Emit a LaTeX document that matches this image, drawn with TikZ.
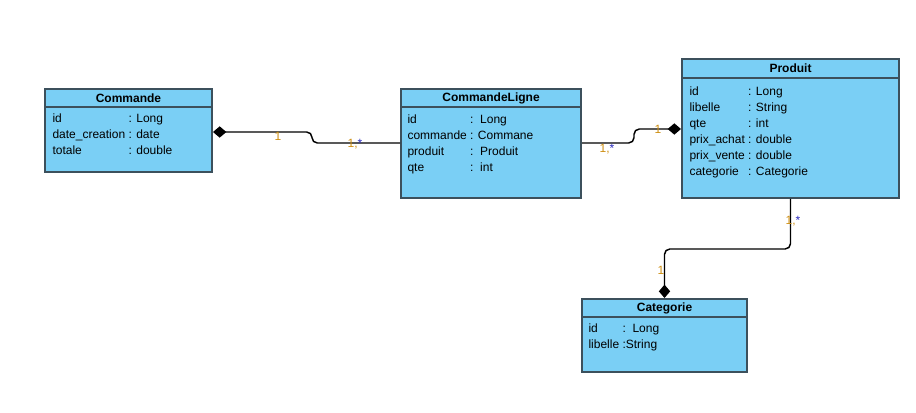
\documentclass[tikz,border=0pt]{standalone}
\usepackage{fontspec}
\setmainfont{Liberation Sans}
\usetikzlibrary{arrows.meta,fit,calc}
\definecolor{multblue}{RGB}{40,40,190}
\tikzset{every picture/.style={line width=0.75pt}}
\tikzset{
  classbox/.style={draw={rgb, 255:red, 60; green, 80; blue, 92 }, fill={rgb, 255:red, 122; green, 207; blue, 245 }, line width=1.5pt, inner sep=0pt},
  classtitle/.style={inner sep=0pt, font=\bfseries\fontsize{9}{12}\selectfont},
  attrtext/.style={anchor=north west, inner sep=0pt, font=\fontsize{9}{12}\selectfont},
  mult/.style={inner sep=0pt, font=\fontsize{9}{12}\selectfont, color={rgb, 255:red, 205; green, 142; blue, 18 }},
  assoc/.style={draw=black, line width=1.1pt, rounded corners=4pt},
  compo/.tip={Diamond[length=10pt,width=8.5pt]}
}

\begin{document}
\begin{tikzpicture}[x=0.75pt,y=0.75pt,yscale=-1,xscale=1]
\useasboundingbox (0,0) rectangle (916,413);

%Shape: Class [Commande]
\node [classbox, fit={(45,107) (212,172)}] (commandeBody) {};
\node [classbox, fit={(45,89) (212,107)}] (commande) {};
%Shape: Class [CommandeLigne]
\node [classbox, fit={(401,107) (581,198)}] (ligneBody) {};
\node [classbox, fit={(401,89) (581,107)}] (ligne) {};
%Shape: Class [Produit]
\node [classbox, fit={(682,78) (899,198)}] (produitBody) {};
\node [classbox, fit={(682,59) (899,78)}] (produit) {};
%Shape: Class [Categorie]
\node [classbox, fit={(582,317) (747,372)}] (categorieBody) {};
\node [classbox, fit={(582,299) (747,317)}] (categorie) {};

% Text Node
\node [classtitle] (commandeTitle) at (commande.center) {Commande};
\node [classtitle] (ligneTitle) at (ligne.center) {CommandeLigne};
\node [classtitle] (produitTitle) at (produit.center) {Produit};
\node [classtitle] (categorieTitle) at (categorie.center) {Categorie};

% Text Node
\node [attrtext] (commandeAttr) at (52,111) {\begin{tabular}{@{}l@{\ }l@{}}
id & : Long\\ date\_creation & : date\\ totale & : double
\end{tabular}};
% Text Node
\node [attrtext] (ligneAttr) at (407,112) {\begin{tabular}{@{}l@{\ }l@{}}
id & :\ \ Long\\ commande & : Commane\\ produit & :\ \ Produit\\ qte & :\ \ int
\end{tabular}};
% Text Node
\node [attrtext] (produitAttr) at (689,84) {\begin{tabular}{@{}l@{\ }l@{}}
id & : Long\\ libelle & : String\\ qte & : int\\ prix\_achat & : double\\ prix\_vente & : double\\ categorie & : Categorie
\end{tabular}};
% Text Node
\node [attrtext] (categorieAttr) at (588,321) {\begin{tabular}{@{}l@{\ }l@{}}
id & :\ \ Long\\ libelle & :String
\end{tabular}};

%Straight Lines [Commande - CommandeLigne]
\draw [assoc, compo-] ($(commandeBody.east)+(0,-7.5)$) -- ++(99,0) -- ++(0,11) -- ($(ligneBody.west)+(0,-9.5)$);
%Straight Lines [CommandeLigne - Produit]
\draw [assoc, -compo] ($(ligneBody.east)+(0,-9.5)$) -- ++(52,0) -- ++(0,-14) -- ($(produitBody.west)+(0,-9)$);
%Straight Lines [Produit - Categorie]
\draw [assoc, -compo] (produitBody.south) -- ++(0,50) -| (categorie.north);

% Text Node
\node [mult] (m1) at (278,136) {1};
\node [mult] (m2) at (355,144) {1,\textcolor{multblue}{*}};
\node [mult] (m3) at (607,149) {1,\textcolor{multblue}{*}};
\node [mult] (m4) at (658,129) {1};
\node [mult] (m5) at (793,221) {1,\textcolor{multblue}{*}};
\node [mult] (m6) at (661,270) {1};

\end{tikzpicture}
\end{document}
